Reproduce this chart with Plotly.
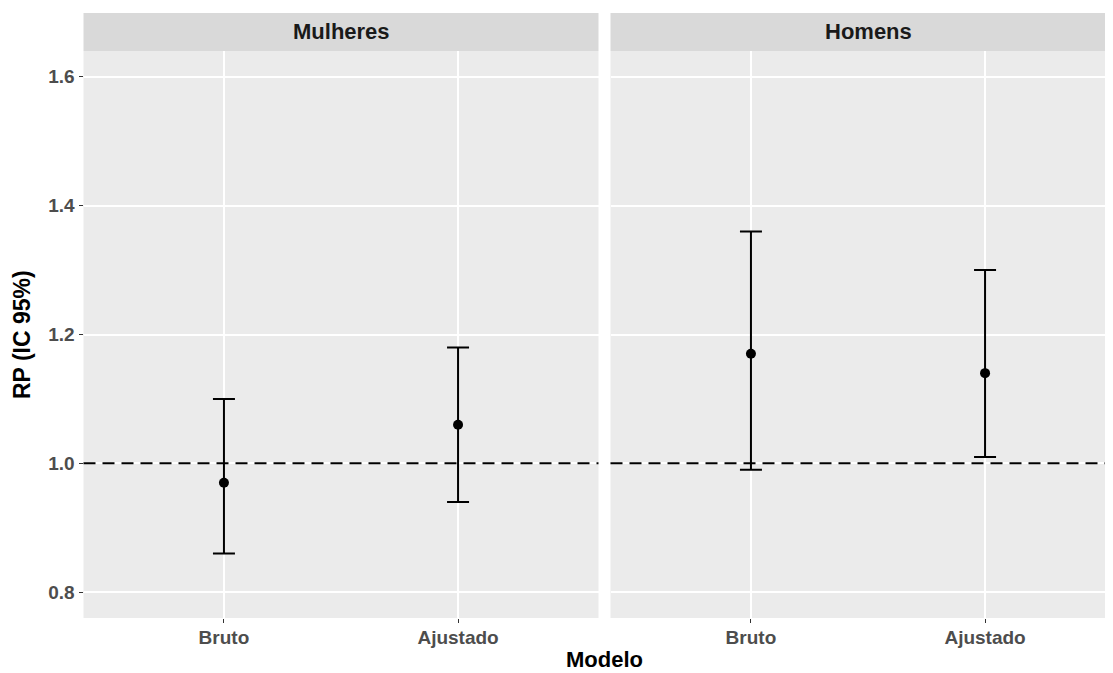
import plotly.graph_objects as go

# Page has an 8px body margin: draw on a figure shifted by 8px
OFF = 8
W, H = 1113 - OFF, 673 - OFF

categories = ["Bruto", "Ajustado"]
panels = ["Mulheres", "Homens"]
rp_mulheres = [0.97, 1.06]
lo_mulheres = [0.86, 0.94]
hi_mulheres = [1.10, 1.18]
rp_homens = [1.17, 1.14]
lo_homens = [0.99, 1.01]
hi_homens = [1.36, 1.30]
y_ticks = [0.8, 1.0, 1.2, 1.4, 1.6]
ref_line = 1.0

FONT = "Liberation Sans, Arial, sans-serif"

def px_x(p):
    return (p - OFF) / W

def px_y(p):
    return 1 - (p - OFF) / H

fig = go.Figure()

series = [
    (rp_mulheres, lo_mulheres, hi_mulheres, "x", "y"),
    (rp_homens, lo_homens, hi_homens, "x2", "y2"),
]
for rp, lo, hi, xa, ya in series:
    fig.add_trace(go.Scatter(
        x=categories, y=rp, mode="markers", xaxis=xa, yaxis=ya,
        marker=dict(color="black", size=10),
        error_y=dict(type="data", symmetric=False,
                     array=[h - r for h, r in zip(hi, rp)],
                     arrayminus=[r - l for r, l in zip(rp, lo)],
                     color="black", thickness=2, width=11),
        showlegend=False,
    ))

P1 = (83.5, 598.5)
P2L = 610.5
UNIT = (P1[1] - P1[0]) / 2.2
y_top, y_bot = 51, 618
yrange = [0.76, 1.64]
axis_common = dict(
    showgrid=True, gridcolor="white", gridwidth=1.5, zeroline=False,
    showline=False, ticklen=4, tickcolor="#333333", tickwidth=1,
    tickfont=dict(family=FONT, size=19, color="#4D4D4D", weight="bold"),
)
fig.update_layout(
    width=W, height=H,
    margin=dict(l=0, r=0, t=0, b=0),
    paper_bgcolor="white", plot_bgcolor="#EBEBEB",
    xaxis=dict(domain=[px_x(P1[0]), px_x(P1[1])], type="category",
               categoryorder="array", categoryarray=categories,
               range=[-0.6, 1.6], anchor="y", ticks="outside",
               ticklabelstandoff=-2, **axis_common),
    xaxis2=dict(domain=[px_x(P2L), 1.0], type="category",
                categoryorder="array", categoryarray=categories,
                range=[-0.6, (1113 - P2L) / UNIT - 0.6], anchor="y2",
                ticks="outside", ticklabelstandoff=-2, **axis_common),
    yaxis=dict(domain=[px_y(y_bot), px_y(y_top)], range=yrange,
               tickvals=y_ticks, ticktext=[f"{v:.1f}" for v in y_ticks],
               anchor="x", ticks="outside", **axis_common),
    yaxis2=dict(domain=[px_y(y_bot), px_y(y_top)], range=yrange,
                tickvals=y_ticks, showticklabels=False, ticks="",
                anchor="x2", matches="y", **axis_common),
)

shapes = []
annotations = []
strip_dom = [P1, (P2L, 1113)]
for i, (name, (a, b)) in enumerate(zip(panels, strip_dom)):
    shapes.append(dict(type="rect", xref="paper", yref="paper",
                       x0=px_x(a), x1=px_x(b), y0=px_y(51), y1=px_y(13),
                       fillcolor="#D9D9D9", line=dict(width=0), layer="below"))
    centre = a + (P1[1] - P1[0]) / 2
    annotations.append(dict(text=f"<b>{name}</b>", xref="paper", yref="paper",
                            x=px_x(centre), y=px_y(32), showarrow=False,
                            font=dict(family=FONT, size=22, color="#1A1A1A"),
                            xanchor="center", yanchor="middle"))
    xr = "x domain" if i == 0 else "x2 domain"
    yr = "y" if i == 0 else "y2"
    shapes.append(dict(type="line", xref=xr, yref=yr, x0=0, x1=1,
                       y0=ref_line, y1=ref_line,
                       line=dict(color="black", width=2, dash="12px,7px"),
                       layer="above"))

annotations.append(dict(text="<b>RP (IC 95%)</b>", xref="paper", yref="paper",
                        x=px_x(22), y=px_y(335), showarrow=False, textangle=-90,
                        font=dict(family=FONT, size=23, color="black"),
                        xanchor="center", yanchor="middle"))
annotations.append(dict(text="<b>Modelo</b>", xref="paper", yref="paper",
                        x=px_x(604), y=0, showarrow=False, borderpad=0,
                        font=dict(family=FONT, size=22, color="black"),
                        xanchor="center", yanchor="bottom"))

fig.update_layout(shapes=shapes, annotations=annotations)
fig.write_html("out.html")
